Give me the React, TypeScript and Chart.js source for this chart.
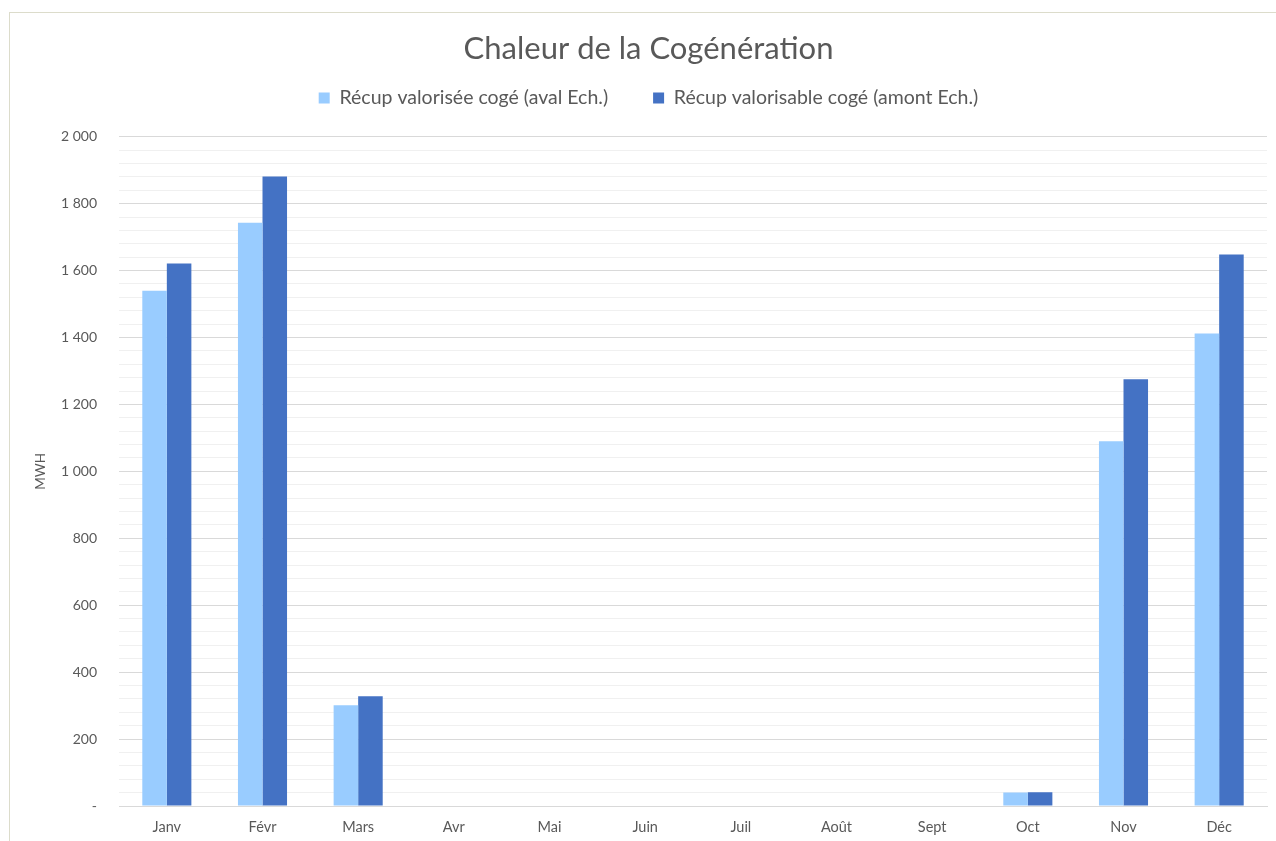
import React, { useEffect, useRef } from "react";
import { Chart, registerables } from "chart.js";

Chart.register(...registerables);

const chartTitle = "Chaleur de la Cogénération";
const yAxisTitle = "MWH";
const categories = ["Janv", "Févr", "Mars", "Avr", "Mai", "Juin", "Juil", "Août", "Sept", "Oct", "Nov", "Déc"];
const seriesNames = ["Récup valorisée cogé (aval Ech.)", "Récup valorisable cogé (amont Ech.)"];
const valoriseeAval = [1540, 1743, 301, 0, 0, 0, 0, 0, 0, 40, 1090, 1412];
const valorisableAmont = [1621, 1881, 328, 0, 0, 0, 0, 0, 0, 41, 1275, 1648];
const yTickValues = [0, 200, 400, 600, 800, 1000, 1200, 1400, 1600, 1800, 2000];
const yTickLabels = ["-", "200", "400", "600", "800", "1 000", "1 200", "1 400", "1 600", "1 800", "2 000"];
const yMin = 0;
const yMax = 2000;
const yMinorStep = 40;

const FONT = "Lato, 'Open Sans', sans-serif";
const TEXT = "#595959";

export default function App() {
  const ref = useRef<HTMLCanvasElement | null>(null);

  useEffect(() => {
    if (!ref.current) return;
    const chart = new Chart(ref.current, {
      type: "bar",
      data: {
        labels: categories,
        datasets: [
          {
            label: seriesNames[0],
            data: valoriseeAval,
            backgroundColor: "#99CCFF",
            categoryPercentage: 0.513,
            barPercentage: 1,
            xAxisID: "x",
          },
          {
            label: seriesNames[1],
            data: valorisableAmont,
            backgroundColor: "#4472C4",
            categoryPercentage: 0.513,
            barPercentage: 1,
            xAxisID: "x",
          },
        ],
      },
      options: {
        animation: false,
        responsive: false,
        maintainAspectRatio: false,
        layout: { padding: { left: 30, right: 9, top: 12, bottom: 0 } },
        plugins: {
          title: {
            display: true,
            text: chartTitle,
            color: TEXT,
            font: { family: FONT, size: 31, weight: "normal" },
            padding: { top: 18, bottom: -24 },
          },
          legend: {
            display: true,
            position: "top",
            labels: {
              color: TEXT,
              font: { family: FONT, size: 19.5 },
              boxWidth: 11,
              boxHeight: 11,
              padding: 45,
            },
          },
          tooltip: { enabled: false },
        },
        scales: {
          x: {
            afterFit: (scale: any) => {
              scale.height = 35;
            },
            grid: { display: false, drawTicks: false },
            border: { display: true, color: "#d9d9d9", width: 1 },
            ticks: {
              color: TEXT,
              font: { family: FONT, size: 14.5 },
              padding: 13,
            },
          },
          xTopSpacer: {
            type: "category",
            position: "top",
            afterFit: (scale: any) => {
              scale.height = 19;
            },
            grid: { display: false, drawTicks: false },
            border: { display: false },
            ticks: { display: false },
          },
          y: {
            min: yMin,
            max: yMax,
            afterFit: (scale: any) => {
              scale.width = 89;
            },
            afterBuildTicks: (scale: any) => {
              const t: any[] = [];
              for (let v = yMin; v <= yMax; v += yMinorStep) t.push({ value: v });
              scale.ticks = t;
            },
            ticks: {
              color: TEXT,
              font: { family: FONT, size: 14 },
              padding: 22,
              autoSkip: false,
              callback: (value: any) => {
                const i = yTickValues.indexOf(Number(value));
                return i >= 0 ? yTickLabels[i] : "";
              },
            },
            grid: {
              drawTicks: false,
              color: (ctx: any) => {
                const v = ctx.tick ? ctx.tick.value : 0;
                return yTickValues.indexOf(v) >= 0 ? "#d9d9d9" : "#f0f0f0";
              },
              lineWidth: 1,
            },
            border: { display: false },
            title: {
              display: true,
              text: yAxisTitle,
              color: TEXT,
              font: { family: FONT, size: 13.5 },
              padding: { top: 3, bottom: 0 },
            },
          },
        },
      },
    });
    return () => chart.destroy();
  }, []);

  return (
    <div style={{ position: "fixed", left: 0, top: 0, width: 1276, height: 841, background: "#fff", overflow: "hidden" }}>
      <div
        style={{
          position: "absolute",
          left: 9,
          top: 12,
          width: 1300,
          height: 900,
          borderTop: "1px solid #dcdccb",
          borderLeft: "1px solid #dcdccb",
        }}
      />
      <canvas ref={ref} width={1276} height={841} style={{ position: "absolute", left: 0, top: 0 }} />
    </div>
  );
}
